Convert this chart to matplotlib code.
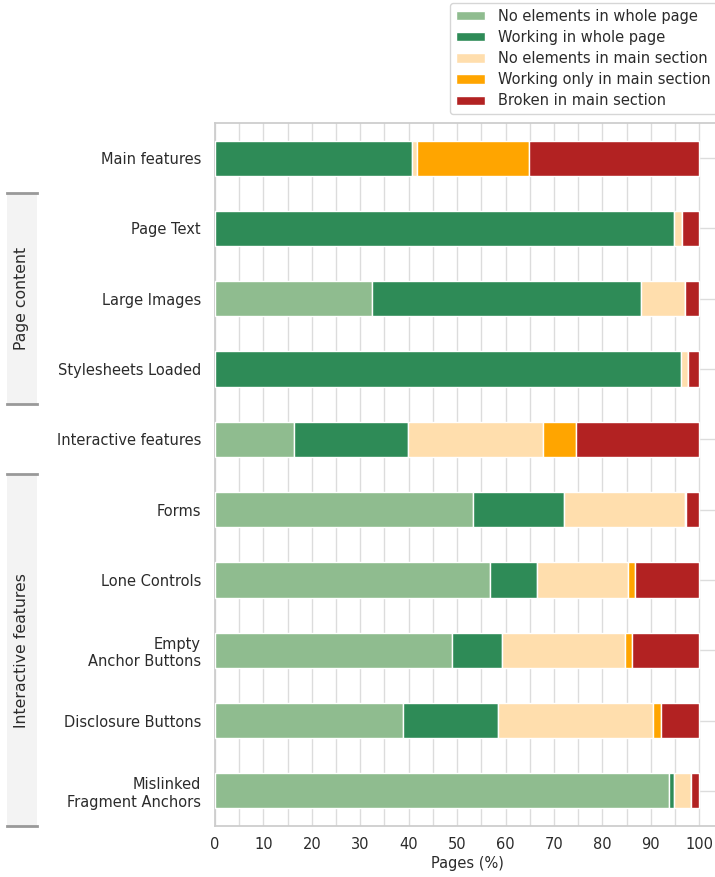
import matplotlib
matplotlib.use("Agg")
import matplotlib.pyplot as plt
import numpy as np
from matplotlib.patches import Rectangle
from matplotlib.transforms import blended_transform_factory
from matplotlib.ticker import MultipleLocator

categories = ["Main features", "Page Text", "Large Images", "Stylesheets Loaded",
              "Interactive features", "Forms", "Lone Controls",
              "Empty\nAnchor Buttons", "Disclosure Buttons",
              "Mislinked\nFragment Anchors"]

series_names = ["No elements in whole page", "Working in whole page",
                "No elements in main section", "Working only in main section",
                "Broken in main section"]

no_elements_whole = [0.0, 0.0, 32.4, 0.0, 16.4, 53.2, 56.7, 48.9, 38.8, 93.7]
working_whole     = [40.7, 94.8, 55.6, 96.2, 23.4, 18.8, 9.9, 10.3, 19.7, 1.2]
no_elements_main  = [1.1, 1.6, 9.0, 1.5, 27.9, 25.1, 18.7, 25.5, 31.9, 3.5]
working_main      = [23.0, 0.0, 0.0, 0.0, 6.8, 0.2, 1.5, 1.4, 1.7, 0.0]
broken_main       = [35.2, 3.6, 3.0, 2.3, 25.5, 2.7, 13.2, 13.9, 7.9, 1.6]

colors = ["#8fbc8f", "#2e8b57", "#ffdead", "#ffa500", "#b22222"]

groups = [("Page content", 0.5, 3.5), ("Interactive features", 4.5, 9.5)]

plt.rcParams["font.family"] = ["DejaVu Sans"]
text_color = "#2b2b2b"
fs = 10.5

fig = plt.figure(figsize=(7.15, 8.77), dpi=100)
ax = fig.add_axes([215 / 715, 51 / 877, 505 / 715, 703 / 877])

series = [no_elements_whole, working_whole, no_elements_main, working_main, broken_main]
y = np.arange(len(categories))
left = np.zeros(len(categories))
for name, vals, c in zip(series_names, series, colors):
    vals = np.array(vals)
    ax.barh(y, vals, left=left, height=0.5, color=c, edgecolor="white",
            linewidth=1.0, label=name, zorder=3)
    left += vals

ax.set_xlim(0, 104.3)
ax.set_ylim(9.5, -0.5)
ax.set_yticks(y)
ax.set_yticklabels(categories, fontsize=fs, color=text_color, ha="right")
ax.xaxis.set_major_locator(MultipleLocator(10))
ax.xaxis.set_minor_locator(MultipleLocator(5))
ax.tick_params(axis="both", which="both", length=0, labelsize=fs,
               colors=text_color, pad=8)
ax.tick_params(axis="y", pad=10)
ax.grid(True, which="both", axis="x", color="#dcdcdc", linewidth=1.0, zorder=0)
ax.grid(True, which="major", axis="y", color="#dcdcdc", linewidth=1.0, zorder=0)
ax.set_axisbelow(True)
for s in ax.spines.values():
    s.set_color("#cccccc")
    s.set_linewidth(1.25)
ax.set_xlabel("Pages (%)", fontsize=fs, color=text_color, labelpad=3)

# group brackets
trans = blended_transform_factory(fig.transFigure, ax.transData)
x0, x1 = 7 / 715, 37 / 715
for label, ya, yb in groups:
    rect = Rectangle((x0, ya), x1 - x0, yb - ya, transform=trans,
                     facecolor="#f3f3f3", edgecolor="none", clip_on=False, zorder=1)
    fig.add_artist(rect)
    for yy in (ya, yb):
        fig.add_artist(plt.Line2D([x0, x1], [yy, yy], transform=trans,
                                  color="#999999", linewidth=2, clip_on=False))
    fig.text((x0 + x1) / 2, (ya + yb) / 2, label, transform=trans,
             rotation=90, ha="center", va="center", fontsize=11.3, color=text_color)

leg = fig.legend(loc="upper left", bbox_to_anchor=(450 / 715, 1 - 3 / 877),
                 fontsize=fs, frameon=True, fancybox=True, labelcolor=text_color,
                 handlelength=2.0, handleheight=0.6, handletextpad=0.9,
                 borderpad=0.4, labelspacing=0.42, borderaxespad=0)
leg.get_frame().set_edgecolor("#cccccc")

fig.savefig("out.png", dpi=100)
